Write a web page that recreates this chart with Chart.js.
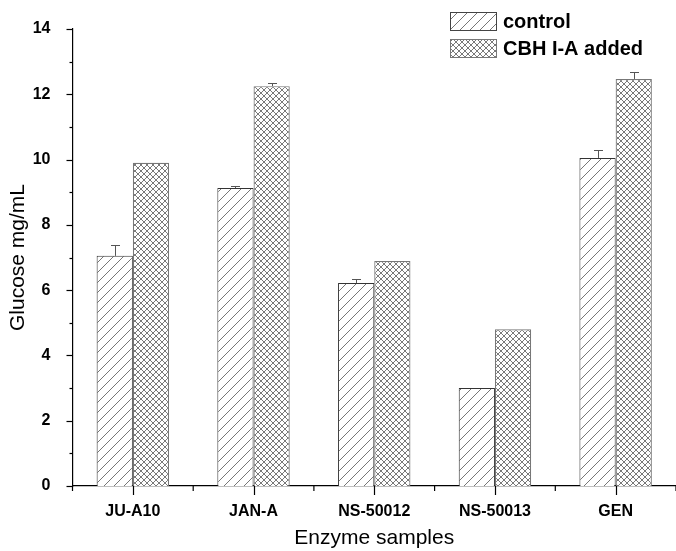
<!DOCTYPE html>
<html>
<head>
<meta charset="utf-8">
<script src="https://cdn.jsdelivr.net/npm/chart.js@4.4.1/dist/chart.umd.min.js"></script>
<style>
  html, body { margin: 0; padding: 0; background: #fff; overflow: hidden; }
  #wrap { width: 676px; height: 551px; }
</style>
</head>
<body>
<div id="wrap"><canvas id="chart" width="676" height="551"></canvas></div>
<script>
const samples = ["JU-A10", "JAN-A", "NS-50012", "NS-50013", "GEN"];
const control = [7.05, 9.13, 6.22, 3.0, 10.05];
const controlErr = [0.33, 0.05, 0.12, 0, 0.24];
const added = [9.9, 12.25, 6.89, 4.8, 12.47];
const addedErr = [0, 0.1, 0, 0, 0.21];
const yTicks = [0, 2, 4, 6, 8, 10, 12, 14];

const FONT = "'Liberation Sans', Arial, sans-serif";

// hatch fills
function diagPattern() {
  const c = document.createElement('canvas');
  c.width = 10; c.height = 10;
  const g = c.getContext('2d');
  g.fillStyle = '#fff';
  g.fillRect(0, 0, 10, 10);
  g.strokeStyle = '#666';
  g.lineWidth = 0.9;
  g.beginPath();
  g.moveTo(0, 10); g.lineTo(10, 0);
  g.moveTo(-1, 1); g.lineTo(1, -1);
  g.moveTo(9, 11); g.lineTo(11, 9);
  g.stroke();
  return g.createPattern(c, 'repeat');
}
function crossPattern() {
  const c = document.createElement('canvas');
  c.width = 6; c.height = 6;
  const g = c.getContext('2d');
  g.fillStyle = '#fff';
  g.fillRect(0, 0, 6, 6);
  g.strokeStyle = '#6a6a6a';
  g.lineWidth = 0.9;
  g.beginPath();
  g.moveTo(0, 6); g.lineTo(6, 0);
  g.moveTo(0, 0); g.lineTo(6, 6);
  g.stroke();
  return g.createPattern(c, 'repeat');
}
const diag = diagPattern();
const cross = crossPattern();

const extras = {
  id: 'extras',
  afterDraw(chart) {
    const ctx = chart.ctx;
    const x = chart.scales.x, y = chart.scales.y;
    const a = chart.chartArea;
    ctx.save();
    ctx.strokeStyle = '#000';
    ctx.lineWidth = 1.2;
    // y ticks: major every 2, minor at odd values
    for (let v = 0; v <= 14; v++) {
      const py = Math.round(y.getPixelForValue(v)) + 0.5;
      const len = v % 2 === 0 ? 6 : 3;
      ctx.beginPath();
      ctx.moveTo(a.left - len, py);
      ctx.lineTo(a.left, py);
      ctx.stroke();
    }
    // x ticks: long at centres, short at boundaries
    const step = (a.right - a.left) / samples.length;
    for (let i = 0; i <= samples.length; i++) {
      const px = a.left + i * step;
      ctx.beginPath();
      ctx.moveTo(px, a.bottom);
      ctx.lineTo(px, a.bottom + 5);
      ctx.stroke();
    }
    samples.forEach((s, i) => {
      const px = Math.round(x.getPixelForValue(i)) + 0.5;
      ctx.beginPath();
      ctx.moveTo(px, a.bottom);
      ctx.lineTo(px, a.bottom + 9);
      ctx.stroke();
    });
    // error bars
    ctx.strokeStyle = '#555';
    ctx.lineWidth = 1;
    [controlErr, addedErr].forEach((errs, di) => {
      const meta = chart.getDatasetMeta(di);
      const vals = di === 0 ? control : added;
      meta.data.forEach((bar, i) => {
        if (!errs[i]) return;
        const px = Math.round(bar.x) + 0.5;
        const top = Math.round(y.getPixelForValue(vals[i] + errs[i])) + 0.5;
        ctx.beginPath();
        ctx.moveTo(px, bar.y);
        ctx.lineTo(px, top);
        ctx.moveTo(px - 4.5, top);
        ctx.lineTo(px + 4.5, top);
        ctx.stroke();
      });
    });
    // legend
    const items = [['control', diag, '#444', 12], ['CBH I-A added', cross, '#777', 39]];
    items.forEach(([label, pat, border, top]) => {
      ctx.fillStyle = pat;
      ctx.fillRect(450, top, 46, 18);
      ctx.strokeStyle = border;
      ctx.lineWidth = 1;
      ctx.strokeRect(450.5, top + 0.5, 46, 18);
      ctx.fillStyle = '#000';
      ctx.font = "bold 20px " + FONT;
      ctx.textBaseline = 'middle';
      ctx.textAlign = 'left';
      ctx.fillText(label, 503, top + 10);
    });
    ctx.restore();
  }
};

new Chart(document.getElementById('chart'), {
  type: 'bar',
  data: {
    labels: samples,
    datasets: [{
      label: 'control',
      data: control,
      backgroundColor: diag,
      borderColor: '#333',
      borderWidth: 1,
      categoryPercentage: 0.6,
      barPercentage: 1.0
    }, {
      label: 'CBH I-A added',
      data: added,
      backgroundColor: cross,
      borderColor: '#777',
      borderWidth: 1.2,
      categoryPercentage: 0.6,
      barPercentage: 1.0
    }]
  },
  options: {
    responsive: false,
    animation: false,
    layout: { padding: { top: 29, left: 0, right: 0, bottom: 0 } },
    plugins: { legend: { display: false }, tooltip: { enabled: false } },
    scales: {
      x: {
        grid: { display: false },
        border: { display: true, color: '#000', width: 1.2 },
        ticks: { color: '#000', font: { family: FONT, size: 16, weight: 'bold' }, padding: 8 },
        title: { display: true, text: 'Enzyme samples', color: '#000',
                 font: { family: FONT, size: 21 }, padding: { top: 0, bottom: 0 } },
        afterFit(s) { s.height = 65; }
      },
      y: {
        min: 0, max: 14,
        afterBuildTicks(s) { s.ticks = yTicks.map(v => ({ value: v })); },
        grid: { display: false },
        border: { display: true, color: '#000', width: 1.2 },
        ticks: { color: '#000', font: { family: FONT, size: 16, weight: 'bold' }, padding: 14 },
        title: { display: true, text: 'Glucose mg/mL', color: '#000',
                 font: { family: FONT, size: 21 }, padding: { top: 6, bottom: 0 } },
        afterFit(s) { s.width = 72.5; }
      }
    }
  },
  plugins: [extras]
});
</script>
</body>
</html>
